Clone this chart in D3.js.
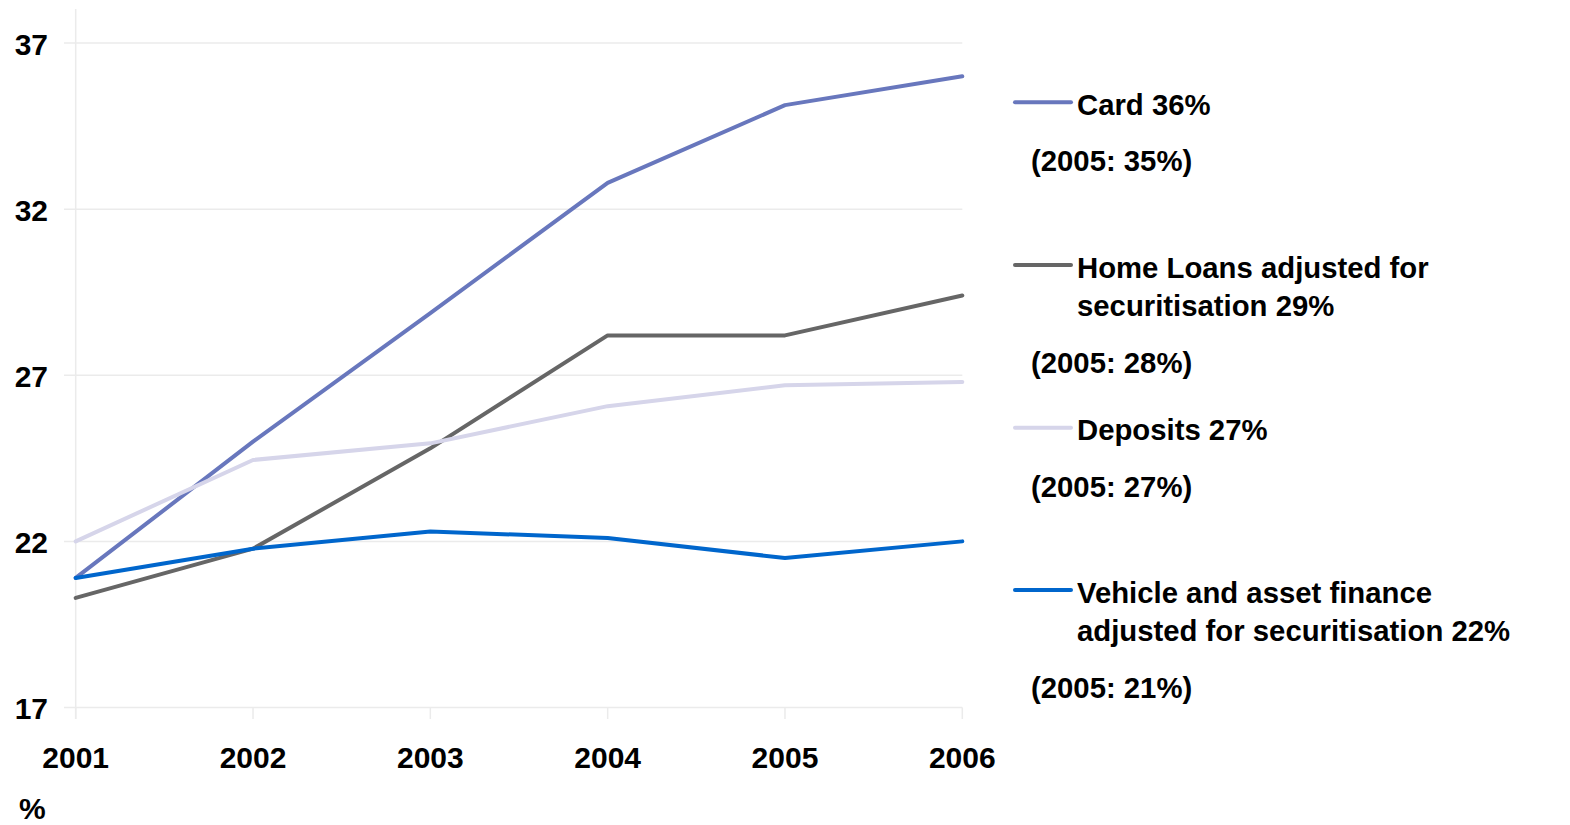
<!DOCTYPE html>
<html>
<head>
<meta charset="utf-8">
<script src="https://cdn.jsdelivr.net/npm/d3@7"></script>
<style>
  html, body { margin: 0; padding: 0; background: #fff; }
  svg { display: block; font-family: "Liberation Sans", Arial, sans-serif; font-weight: bold; }
</style>
</head>
<body>
<svg id="chart" width="1570" height="825"></svg>
<script>
const years = ["2001", "2002", "2003", "2004", "2005", "2006"];
const yTicks = [17, 22, 27, 32, 37];

const card     = [20.9, 25.0, 28.87, 32.79, 35.13, 36.0];
const homeLoans = [20.3, 21.78, 24.8, 28.2, 28.2, 29.4];
const deposits = [22.0, 24.45, 24.95, 26.07, 26.7, 26.8];
const vehicle  = [20.9, 21.78, 22.3, 22.1, 21.5, 22.0];

const seriesNames = ["Card", "Home Loans", "Deposits", "Vehicle"];
const legendLines = [
  ["Card 36%"],
  ["Home Loans adjusted for", "securitisation 29%"],
  ["Deposits 27%"],
  ["Vehicle and asset finance", "adjusted for securitisation 22%"]
];
const legendNotes = ["(2005: 35%)", "(2005: 28%)", "(2005: 27%)", "(2005: 21%)"];
const colors = ["#6877bd", "#666666", "#d6d5ea", "#0066cc"];
const allSeries = [card, homeLoans, deposits, vehicle];

const svg = d3.select("#chart");

const x = d3.scalePoint().domain(years).range([75.7, 962.3]);
const y = d3.scaleLinear().domain([17, 37]).range([707.5, 43]);

// gridlines
svg.append("g").selectAll("line").data(yTicks).join("line")
  .attr("x1", 64).attr("x2", 962.3)
  .attr("y1", d => y(d)).attr("y2", d => y(d))
  .attr("stroke", "#ebebeb").attr("stroke-width", 1.5);

// vertical axis line
svg.append("line")
  .attr("x1", x(years[0])).attr("x2", x(years[0]))
  .attr("y1", 9).attr("y2", 719)
  .attr("stroke", "#ebebeb").attr("stroke-width", 1.5);

// x ticks
svg.append("g").selectAll("line").data(years).join("line")
  .attr("x1", d => x(d)).attr("x2", d => x(d))
  .attr("y1", y(17)).attr("y2", 719)
  .attr("stroke", "#ebebeb").attr("stroke-width", 1.5);

// y tick labels
svg.append("g").selectAll("text").data(yTicks).join("text")
  .attr("x", 48).attr("y", d => y(d) + 11.5)
  .attr("text-anchor", "end")
  .attr("font-size", 30)
  .attr("fill", "#000")
  .text(d => d);

// x tick labels
svg.append("g").selectAll("text").data(years).join("text")
  .attr("x", d => x(d)).attr("y", 768)
  .attr("text-anchor", "middle")
  .attr("font-size", 30)
  .attr("fill", "#000")
  .text(d => d);

// % label
svg.append("text").attr("x", 19).attr("y", 819)
  .attr("font-size", 30).attr("fill", "#000").text("%");

// lines
const line = d3.line().x((d, i) => x(years[i])).y(d => y(d));
svg.append("g").selectAll("path").data(allSeries).join("path")
  .attr("d", d => line(d))
  .attr("fill", "none")
  .attr("stroke", (d, i) => colors[i])
  .attr("stroke-width", 4)
  .attr("stroke-linejoin", "round")
  .attr("stroke-linecap", "round");

// legend
const legendLineY = [102.3, 265, 427.7, 590];
const legendNoteY = [170.5, 372.5, 496.5, 698];
const lg = svg.append("g");
seriesNames.forEach((name, i) => {
  lg.append("line")
    .attr("x1", 1015).attr("x2", 1071)
    .attr("y1", legendLineY[i]).attr("y2", legendLineY[i])
    .attr("stroke", colors[i]).attr("stroke-width", 4)
    .attr("stroke-linecap", "round");
  legendLines[i].forEach((t, j) => {
    lg.append("text")
      .attr("x", 1077).attr("y", legendLineY[i] + 12.5 + j * 38.5)
      .attr("font-size", 29.3).attr("fill", "#000")
      .text(t);
  });
  lg.append("text")
    .attr("x", 1031).attr("y", legendNoteY[i])
    .attr("font-size", 29.3).attr("fill", "#000")
    .text(legendNotes[i]);
});
</script>
</body>
</html>
